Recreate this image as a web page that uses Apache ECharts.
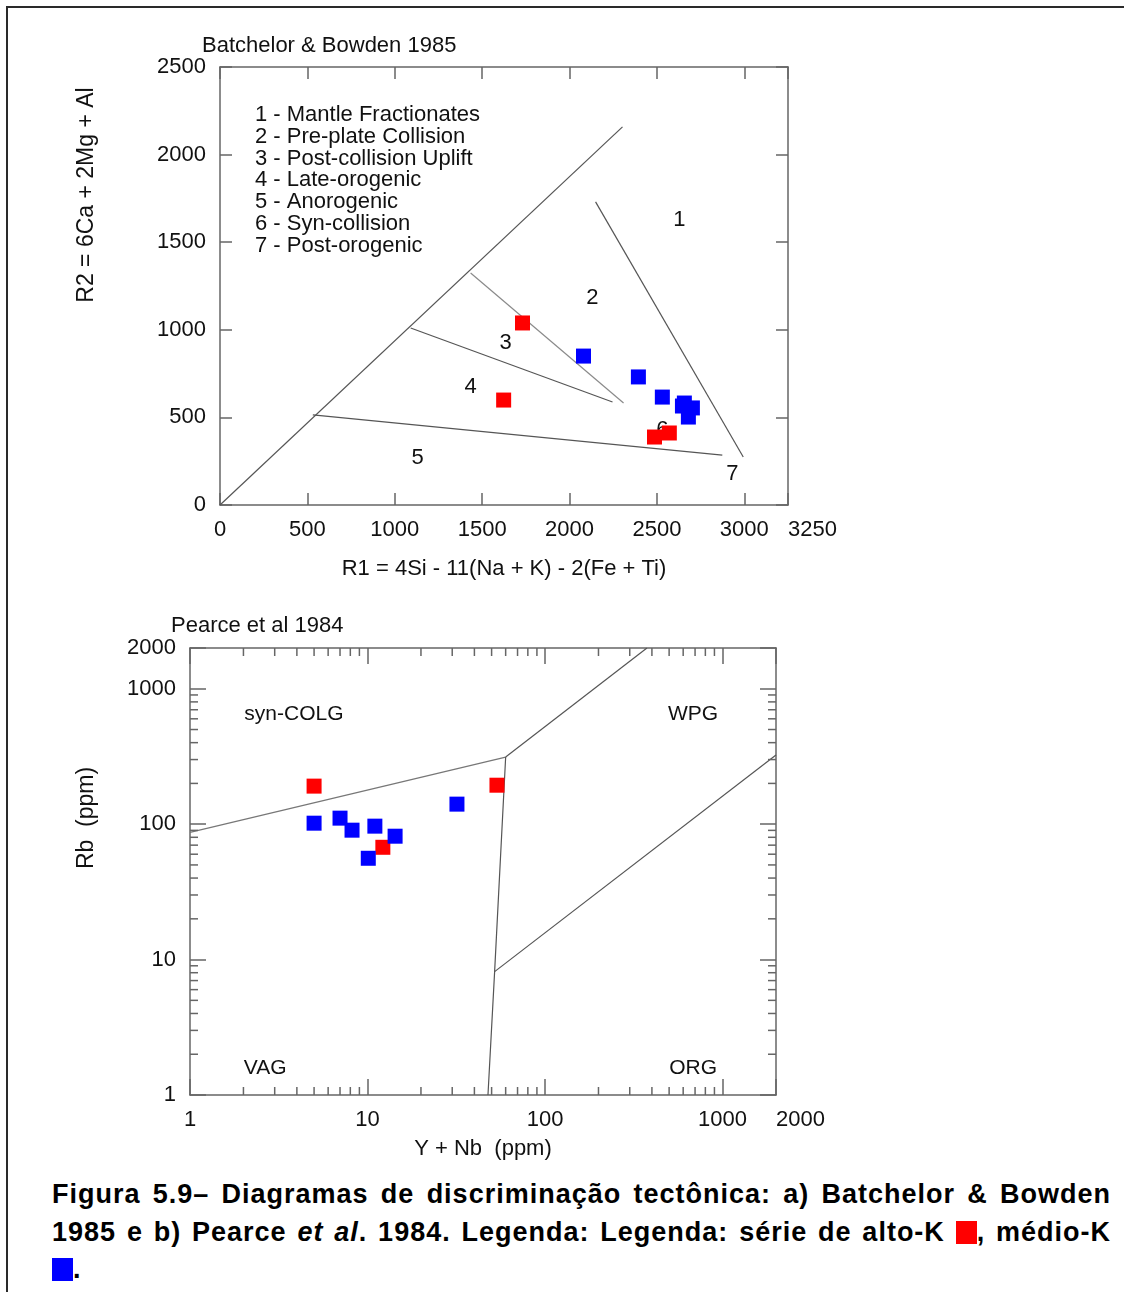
<!DOCTYPE html>
<html>
<head>
<meta charset="utf-8">
<script src="https://cdn.jsdelivr.net/npm/echarts@6/dist/echarts.min.js"></script>
<style>
  html, body { margin: 0; padding: 0; background: #fff; }
  body { width: 1124px; height: 1292px; position: relative; overflow: hidden; }
  .frame { position: absolute; left: 6px; top: 6px; width: 1300px; height: 1400px;
    border-top: 2px solid #2a2a2a; border-left: 2px solid #2a2a2a; }
  #chart { position: absolute; left: 0; top: 0; width: 1124px; height: 1165px; }
  .caption { position: absolute; left: 52px; top: 1176px; width: 1059px;
    font-family: 'Liberation Sans', Arial, sans-serif; font-weight: bold; font-size: 27px;
    letter-spacing: 1px; line-height: 37.5px; color: #000; }
  .caption div { text-align: justify; text-align-last: justify; white-space: nowrap; }
  .caption div.last { text-align-last: left; }
  .sq { display: inline-block; width: 21px; height: 23px; vertical-align: -3px; }
</style>
</head>
<body>
<div class="frame"></div>
<div id="chart"></div>
<div class="caption">
  <div>Figura 5.9– Diagramas de discriminação tectônica: a) Batchelor &amp; Bowden</div>
  <div>1985 e b) Pearce <i>et al</i>. 1984. Legenda: Legenda: série de alto-K <span class="sq" style="background:#ff0000"></span>, médio-K</div>
  <div class="last"><span class="sq" style="background:#0000ff"></span>.</div>
</div>
<script>
// --- Batchelor & Bowden 1985 (R1-R2) ---
const bbZoneNames = [
  '1 - Mantle Fractionates',
  '2 - Pre-plate Collision',
  '3 - Post-collision Uplift',
  '4 - Late-orogenic',
  '5 - Anorogenic',
  '6 - Syn-collision',
  '7 - Post-orogenic'
]
const bbZoneLabels = ['1', '2', '3', '4', '5', '6', '7']
const bbZoneLabelPos = [[2629, 1627], [2131, 1182], [1634, 925], [1434, 674], [1131, 268], [2531, 430], [2931, 177]]

// boundary lines [R1, R2]
const bbDiagonal = [[0, 0], [2303, 2158]]
const bbLine1 = [[2149, 1730], [2994, 274]]
const bbLine45 = [[531, 514], [2874, 285]]
const bbLine34 = [[1091, 1010], [2246, 588]]
const bbLine23 = [[1434, 1324], [2309, 582]]

// samples [R1, R2]
const bbHighK = [[1731, 1039], [1623, 599], [2486, 388], [2571, 411]]
const bbMediumK = [[2080, 850], [2394, 731], [2531, 616], [2657, 582], [2703, 554], [2680, 502], [2646, 565]]

// --- Pearce et al 1984 (Y+Nb vs Rb) ---
const pzRegionNames = ['syn-COLG', 'WPG', 'VAG', 'ORG']
const pzRegionPos = [[3.85, 653], [682, 653], [2.65, 1.585], [682, 1.585]]

const pzLineColgVag = [[1, 87], [60, 313]]
const pzLineColgWpg = [[60, 313], [375, 2000]]
const pzLineVagOrg = [[60, 313], [52, 8.15], [47.7, 1]]
const pzLineOrgWpg = [[52, 8.15], [2000, 324]]

const pzHighK = [[5.0, 191], [53.6, 194], [12.2, 67.5]]
const pzMediumK = [[5.0, 101.7], [7.0, 110.8], [8.18, 90.3], [11.0, 96.7], [14.3, 81.5], [10.1, 56], [31.9, 140.6]]

// minor ticks of the log axes
const logMinorTicks = [2, 3, 4, 5, 6, 7, 8, 9, 20, 30, 40, 50, 60, 70, 80, 90, 200, 300, 400, 500, 600, 700, 800, 900]

const FONT = "'Liberation Sans', Arial, sans-serif"
const INK = '#111'
const AXIS = '#666'
const LINE = '#555'

const chart = echarts.init(document.getElementById('chart'))

const axisBase = (gridIndex, pos, showLabel, tickLen) => ({
  gridIndex,
  position: pos,
  axisLine: { show: true, onZero: false, lineStyle: { color: AXIS, width: 1.5 } },
  axisTick: { show: true, inside: true, length: tickLen, lineStyle: { color: AXIS, width: 1.5 } },
  splitLine: { show: false },
  axisLabel: {
    show: showLabel, color: INK, fontSize: 22, fontFamily: FONT, margin: 14,
    hideOverlap: false, showMaxLabel: true, showMinLabel: true,
    formatter: v => String(Math.round(v))
  }
})

const lineSeries = (data, xi, yi, color) => ({
  type: 'line', xAxisIndex: xi, yAxisIndex: yi, data,
  showSymbol: false, symbol: 'none', silent: true, z: 2,
  lineStyle: { color: color || LINE, width: 1.2 }
})

const pointSeries = (name, data, xi, yi, color) => ({
  name, type: 'scatter', xAxisIndex: xi, yAxisIndex: yi, data,
  symbol: 'rect', symbolSize: 15, z: 5,
  itemStyle: { color, opacity: 1 }
})

const labelSeries = (names, pos, xi, yi, size) => ({
  type: 'scatter', xAxisIndex: xi, yAxisIndex: yi, silent: true, z: 3,
  symbolSize: 2, itemStyle: { color: 'rgba(255,255,255,0)' },
  data: names.map((n, i) => ({ name: n, value: pos[i] })),
  label: { show: true, position: 'inside', formatter: '{b}', color: INK, fontSize: size, fontFamily: FONT, opacity: 1 }
})

// draws short inward ticks at given values along one side of the log plot
const minorTickSeries = (side, len) => ({
  type: 'custom', xAxisIndex: 2, yAxisIndex: 2, silent: true, z: 4,
  data: logMinorTicks.map(v => side === 'bottom' ? [v, 1] : side === 'top' ? [v, 2000]
    : side === 'left' ? [1, v] : [2000, v]),
  renderItem: (params, api) => {
    const p = api.coord([api.value(0), api.value(1)])
    const d = { bottom: [0, -len], top: [0, len], left: [len, 0], right: [-len, 0] }[side]
    return {
      type: 'line',
      shape: { x1: p[0], y1: p[1], x2: p[0] + d[0], y2: p[1] + d[1] },
      style: { stroke: AXIS, lineWidth: 1.5 }
    }
  }
})

const xLabelAlign = { alignMaxLabel: 'left' }

const option = {
  animation: false,
  textStyle: { fontFamily: FONT },
  grid: [
    { left: 220, top: 67, width: 568, height: 438, outerBoundsMode: 'none' },
    { left: 190, top: 648, width: 586, height: 447, outerBoundsMode: 'none' }
  ],
  xAxis: [
    Object.assign(axisBase(0, 'bottom', true, 12), {
      type: 'value', min: 0, max: 3250, interval: 500,
      name: 'R1 = 4Si - 11(Na + K) - 2(Fe + Ti)', nameLocation: 'middle', nameGap: 53,
      nameTextStyle: { color: INK, fontSize: 22, fontFamily: FONT }
    }),
    Object.assign(axisBase(0, 'top', false, 12), { type: 'value', min: 0, max: 3250, interval: 500 }),
    Object.assign(axisBase(1, 'bottom', true, 16), {
      type: 'log', logBase: 10, min: 1, max: 2000,
      name: 'Y + Nb  (ppm)', nameLocation: 'middle', nameGap: 43,
      nameTextStyle: { color: INK, fontSize: 22, fontFamily: FONT }
    }),
    Object.assign(axisBase(1, 'top', false, 16), { type: 'log', logBase: 10, min: 1, max: 2000 })
  ],
  yAxis: [
    Object.assign(axisBase(0, 'left', true, 12), { type: 'value', min: 0, max: 2500, interval: 500 }),
    Object.assign(axisBase(0, 'right', false, 12), { type: 'value', min: 0, max: 2500, interval: 500 }),
    Object.assign(axisBase(1, 'left', true, 16), { type: 'log', logBase: 10, min: 1, max: 2000 }),
    Object.assign(axisBase(1, 'right', false, 16), { type: 'log', logBase: 10, min: 1, max: 2000 })
  ],
  graphic: [
    { type: 'text', x: 202, y: 46, style: { text: 'Batchelor & Bowden 1985', font: '22px ' + FONT, fill: INK, verticalAlign: 'middle' } },
    { type: 'text', x: 255, y: 104, style: { text: bbZoneNames.join('\n'), font: '22px ' + FONT, fill: INK, lineHeight: 21.8, verticalAlign: 'top' } },
    { type: 'text', x: 87, y: 195, rotation: Math.PI / 2, style: { text: 'R2 = 6Ca + 2Mg + Al', font: '23px ' + FONT, fill: INK, align: 'center', verticalAlign: 'middle' } },
    { type: 'text', x: 171, y: 626, style: { text: 'Pearce et al 1984', font: '22px ' + FONT, fill: INK, verticalAlign: 'middle' } },
    { type: 'text', x: 87, y: 818, rotation: Math.PI / 2, style: { text: 'Rb  (ppm)', font: '23px ' + FONT, fill: INK, align: 'center', verticalAlign: 'middle' } }
  ],
  series: [
    lineSeries(bbDiagonal, 0, 0),
    lineSeries(bbLine1, 0, 0),
    lineSeries(bbLine45, 0, 0),
    lineSeries(bbLine34, 0, 0),
    lineSeries(bbLine23, 0, 0, '#8a8a8a'),
    labelSeries(bbZoneLabels, bbZoneLabelPos, 0, 0, 22),
    pointSeries('alto-K', bbHighK, 0, 0, '#ff0000'),
    pointSeries('médio-K', bbMediumK, 0, 0, '#0000ff'),

    lineSeries(pzLineColgVag, 2, 2, '#777'),
    lineSeries(pzLineColgWpg, 2, 2),
    lineSeries(pzLineVagOrg, 2, 2),
    lineSeries(pzLineOrgWpg, 2, 2),
    labelSeries(pzRegionNames, pzRegionPos, 2, 2, 21),
    minorTickSeries('bottom', 8),
    minorTickSeries('top', 8),
    minorTickSeries('left', 8),
    minorTickSeries('right', 8),
    pointSeries('alto-K', pzHighK, 2, 2, '#ff0000'),
    pointSeries('médio-K', pzMediumK, 2, 2, '#0000ff')
  ]
}
option.xAxis[0].axisLabel = Object.assign(option.xAxis[0].axisLabel, xLabelAlign)
option.xAxis[2].axisLabel = Object.assign(option.xAxis[2].axisLabel, xLabelAlign)

chart.setOption(option)
</script>
</body>
</html>
